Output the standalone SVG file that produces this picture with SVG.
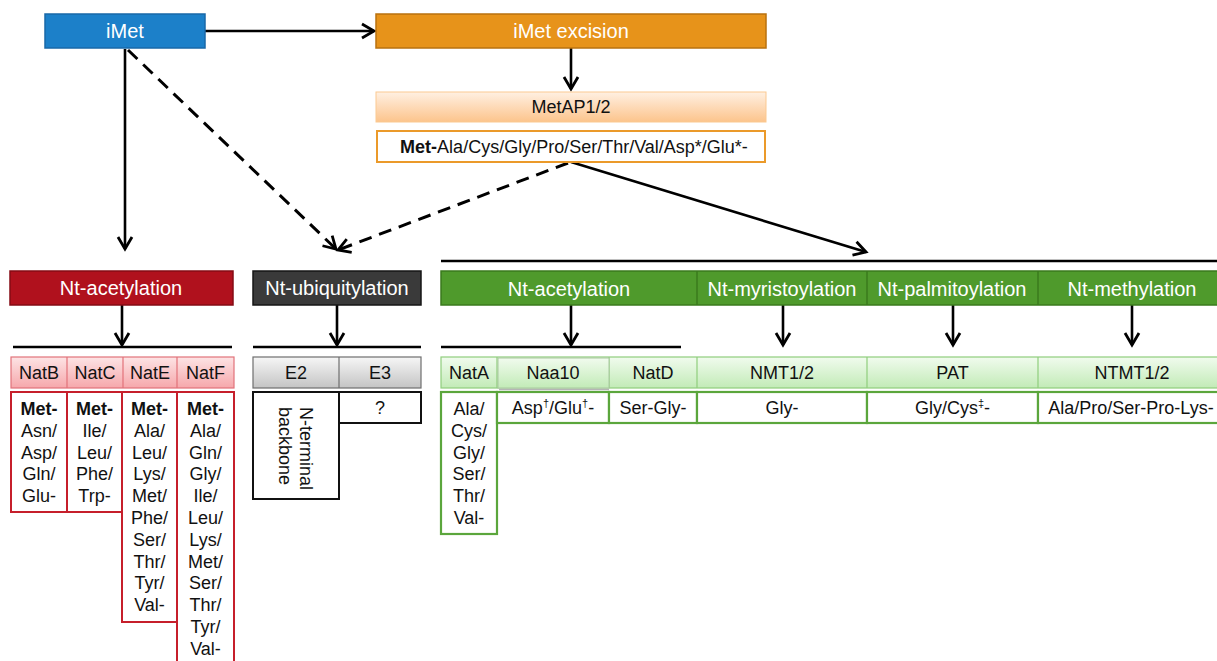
<svg xmlns="http://www.w3.org/2000/svg" width="1217" height="661" viewBox="0 0 1217 661">
<style>
text{font-family:"Liberation Sans",Arial,sans-serif;font-size:18px;fill:#111;text-anchor:middle}
.h{font-size:20px;fill:#fff}
.b{font-weight:bold}
.ln{stroke:#000;stroke-width:2.6;fill:none}
.dash{stroke:#000;stroke-width:3;fill:none;stroke-dasharray:13 8}
.rc{fill:#fff;stroke:#c61f2b;stroke-width:2}
.gc{fill:#fff;stroke:#5ba63c;stroke-width:2.2}
.kc{fill:#fff;stroke:#111;stroke-width:2}
</style>
<defs>
<marker id="ah" markerUnits="userSpaceOnUse" markerWidth="20" markerHeight="20" viewBox="-14 -10 16 20" refX="0" refY="0" orient="auto">
<path d="M-12,-7 L0,0 L-12,7" fill="none" stroke="#000" stroke-width="2.8"/>
</marker>
<linearGradient id="go" x1="0" y1="0" x2="0" y2="1"><stop offset="0" stop-color="#fff0e2"/><stop offset="1" stop-color="#fcc48c"/></linearGradient>
<linearGradient id="gr" x1="0" y1="0" x2="0" y2="1"><stop offset="0" stop-color="#fde4e5"/><stop offset="1" stop-color="#f6a7ab"/></linearGradient>
<linearGradient id="gk" x1="0" y1="0" x2="0" y2="1"><stop offset="0" stop-color="#f6f6f6"/><stop offset="1" stop-color="#c4c4c4"/></linearGradient>
<linearGradient id="gg" x1="0" y1="0" x2="0" y2="1"><stop offset="0" stop-color="#f1fbee"/><stop offset="1" stop-color="#c2ebb7"/></linearGradient>
</defs>

<g id="connectors">
<line class="ln" x1="205" y1="31" x2="374" y2="31" marker-end="url(#ah)"/>
<line class="ln" x1="571" y1="48" x2="571" y2="89" marker-end="url(#ah)"/>
<line class="ln" x1="125" y1="49" x2="125" y2="249" marker-end="url(#ah)"/>
<line class="dash" x1="128" y1="50" x2="336" y2="249" marker-end="url(#ah)"/>
<line class="dash" x1="568" y1="163" x2="338" y2="250" marker-end="url(#ah)"/>
<line class="ln" x1="571" y1="162" x2="866" y2="252" marker-end="url(#ah)"/>
<line class="ln" x1="441" y1="261" x2="1217" y2="261"/>
<line class="ln" x1="122" y1="305" x2="122" y2="345" marker-end="url(#ah)"/>
<line class="ln" x1="13" y1="347" x2="232" y2="347"/>
<line class="ln" x1="337" y1="305" x2="337" y2="345" marker-end="url(#ah)"/>
<line class="ln" x1="253" y1="347" x2="421" y2="347"/>
<line class="ln" x1="571" y1="305" x2="571" y2="345" marker-end="url(#ah)"/>
<line class="ln" x1="441" y1="347" x2="681" y2="347"/>
<line class="ln" x1="783" y1="305" x2="783" y2="345" marker-end="url(#ah)"/>
<line class="ln" x1="953" y1="305" x2="953" y2="345" marker-end="url(#ah)"/>
<line class="ln" x1="1132" y1="305" x2="1132" y2="345" marker-end="url(#ah)"/>
</g>

<g id="imet">
<rect x="45" y="14" width="160" height="34" fill="#1c80c9" stroke="#1868a8" stroke-width="1.5"/>
<text class="h" x="125" y="38">iMet</text>
</g>

<g id="imet-excision">
<rect x="376" y="14" width="390" height="34" fill="#e7931a" stroke="#b9720f" stroke-width="1.5"/>
<text class="h" x="571" y="38">iMet excision</text>
</g>

<g id="metap">
<rect x="376" y="92" width="390" height="30" fill="url(#go)" stroke="#fbc991" stroke-width="1"/>
<text x="571" y="113">MetAP1/2</text>
</g>

<g id="metap-substrate">
<rect x="377" y="131" width="388" height="31" fill="#fff" stroke="#eb9a2a" stroke-width="2"/>
<text x="574" y="153"><tspan class="b">Met-</tspan>Ala/Cys/Gly/Pro/Ser/Thr/Val/Asp*/Glu*-</text>
</g>

<g id="red-acetylation">
<rect x="10" y="271" width="223" height="34" fill="#b0111d" stroke="#850b14" stroke-width="1.5"/>
<text class="h" x="121" y="295">Nt-acetylation</text>
</g>

<g id="red-enzymes">
<rect x="11" y="357" width="223" height="31" fill="url(#gr)" stroke="#e2727a" stroke-width="1.2"/>
<line x1="67" y1="357" x2="67" y2="388" stroke="#e2727a" stroke-width="1.2"/>
<line x1="123" y1="357" x2="123" y2="388" stroke="#e2727a" stroke-width="1.2"/>
<line x1="177" y1="357" x2="177" y2="388" stroke="#e2727a" stroke-width="1.2"/>
<text x="39" y="379">NatB</text>
<text x="95" y="379">NatC</text>
<text x="150" y="379">NatE</text>
<text x="205.5" y="379">NatF</text>
</g>

<g id="natb-sub">
<rect class="rc" x="11" y="392" width="56" height="120"/>
<text x="39" y="415"><tspan class="b">Met-</tspan><tspan x="39" dy="21.8">Asn/</tspan><tspan x="39" dy="21.8">Asp/</tspan><tspan x="39" dy="21.8">Gln/</tspan><tspan x="39" dy="21.8">Glu-</tspan></text>
</g>
<g id="natc-sub">
<rect class="rc" x="67" y="392" width="55" height="120"/>
<text x="94.5" y="415"><tspan class="b">Met-</tspan><tspan x="94.5" dy="21.8">Ile/</tspan><tspan x="94.5" dy="21.8">Leu/</tspan><tspan x="94.5" dy="21.8">Phe/</tspan><tspan x="94.5" dy="21.8">Trp-</tspan></text>
</g>
<g id="nate-sub">
<rect class="rc" x="122" y="392" width="55" height="230"/>
<text x="149.5" y="415"><tspan class="b">Met-</tspan><tspan x="149.5" dy="21.8">Ala/</tspan><tspan x="149.5" dy="21.8">Leu/</tspan><tspan x="149.5" dy="21.8">Lys/</tspan><tspan x="149.5" dy="21.8">Met/</tspan><tspan x="149.5" dy="21.8">Phe/</tspan><tspan x="149.5" dy="21.8">Ser/</tspan><tspan x="149.5" dy="21.8">Thr/</tspan><tspan x="149.5" dy="21.8">Tyr/</tspan><tspan x="149.5" dy="21.8">Val-</tspan></text>
</g>
<g id="natf-sub">
<rect class="rc" x="177" y="392" width="57" height="290"/>
<text x="205.5" y="415"><tspan class="b">Met-</tspan><tspan x="205.5" dy="21.8">Ala/</tspan><tspan x="205.5" dy="21.8">Gln/</tspan><tspan x="205.5" dy="21.8">Gly/</tspan><tspan x="205.5" dy="21.8">Ile/</tspan><tspan x="205.5" dy="21.8">Leu/</tspan><tspan x="205.5" dy="21.8">Lys/</tspan><tspan x="205.5" dy="21.8">Met/</tspan><tspan x="205.5" dy="21.8">Ser/</tspan><tspan x="205.5" dy="21.8">Thr/</tspan><tspan x="205.5" dy="21.8">Tyr/</tspan><tspan x="205.5" dy="21.8">Val-</tspan></text>
</g>

<g id="ubiquitylation">
<rect x="253" y="271" width="168" height="34" fill="#3a3a3a" stroke="#161616" stroke-width="1.5"/>
<text class="h" x="337" y="295">Nt-ubiquitylation</text>
</g>

<g id="ub-enzymes">
<rect x="253" y="357" width="168" height="31" fill="url(#gk)" stroke="#6e6e6e" stroke-width="1.2"/>
<line x1="339" y1="357" x2="339" y2="388" stroke="#6e6e6e" stroke-width="1.2"/>
<text x="296" y="379">E2</text>
<text x="380" y="379">E3</text>
</g>

<g id="e2-sub">
<rect class="kc" x="253" y="392" width="86" height="107"/>
<text transform="translate(300,407) rotate(90)" style="text-anchor:start">N-terminal</text>
<text transform="translate(279,407) rotate(90)" style="text-anchor:start">backbone</text>
</g>
<g id="e3-sub">
<rect class="kc" x="339" y="392" width="82" height="31"/>
<text x="380" y="414">?</text>
</g>

<g id="green-headers">
<rect x="441" y="271" width="790" height="34" fill="#4f9a2c" stroke="#3a7a1d" stroke-width="1.5"/>
<line x1="697" y1="271" x2="697" y2="305" stroke="#3a7a1d" stroke-width="1.5"/>
<line x1="867" y1="271" x2="867" y2="305" stroke="#3a7a1d" stroke-width="1.5"/>
<line x1="1038" y1="271" x2="1038" y2="305" stroke="#3a7a1d" stroke-width="1.5"/>
<text class="h" x="569" y="296">Nt-acetylation</text>
<text class="h" x="782" y="296">Nt-myristoylation</text>
<text class="h" x="952" y="296">Nt-palmitoylation</text>
<text class="h" x="1132" y="296">Nt-methylation</text>
</g>

<g id="green-enzymes">
<rect x="441" y="357" width="790" height="31" fill="url(#gg)" stroke="#8fce7c" stroke-width="1.2"/>
<line x1="497" y1="357" x2="497" y2="388" stroke="#8fce7c" stroke-width="1.2"/>
<line x1="609" y1="357" x2="609" y2="388" stroke="#8fce7c" stroke-width="1.2"/>
<line x1="697" y1="357" x2="697" y2="388" stroke="#8fce7c" stroke-width="1.2"/>
<line x1="867" y1="357" x2="867" y2="388" stroke="#8fce7c" stroke-width="1.2"/>
<line x1="1038" y1="357" x2="1038" y2="388" stroke="#8fce7c" stroke-width="1.2"/>
<rect x="498" y="358" width="111" height="30" fill="url(#gg)" stroke="#a9c8a0" stroke-width="1"/>
<line x1="499" y1="389.5" x2="609" y2="389.5" stroke="#b5b5b5" stroke-width="1.5"/>
<text x="469" y="379">NatA</text>
<text x="553" y="379">Naa10</text>
<text x="653" y="379">NatD</text>
<text x="782" y="379">NMT1/2</text>
<text x="952.5" y="379">PAT</text>
<text x="1132" y="379">NTMT1/2</text>
</g>

<g id="nata-sub">
<rect class="gc" x="441" y="392" width="56" height="142"/>
<text x="469" y="415">Ala/<tspan x="469" dy="21.8">Cys/</tspan><tspan x="469" dy="21.8">Gly/</tspan><tspan x="469" dy="21.8">Ser/</tspan><tspan x="469" dy="21.8">Thr/</tspan><tspan x="469" dy="21.8">Val-</tspan></text>
</g>
<g id="naa10-sub">
<rect class="gc" x="497" y="392" width="112" height="31"/>
<text x="553" y="414">Asp<tspan font-size="11" dy="-7">†</tspan><tspan dy="7">/Glu</tspan><tspan font-size="11" dy="-7">†</tspan><tspan dy="7">-</tspan></text>
</g>
<g id="natd-sub">
<rect class="gc" x="609" y="392" width="88" height="31"/>
<text x="653" y="414">Ser-Gly-</text>
</g>
<g id="nmt-sub">
<rect class="gc" x="697" y="392" width="170" height="31"/>
<text x="782" y="414">Gly-</text>
</g>
<g id="pat-sub">
<rect class="gc" x="867" y="392" width="171" height="31"/>
<text x="952.5" y="414">Gly/Cys<tspan font-size="11" dy="-7">‡</tspan><tspan dy="7">-</tspan></text>
</g>
<g id="ntmt-sub">
<rect class="gc" x="1038" y="392" width="190" height="31"/>
<text x="1131" y="414">Ala/Pro/Ser-Pro-Lys-</text>
</g>
</svg>
